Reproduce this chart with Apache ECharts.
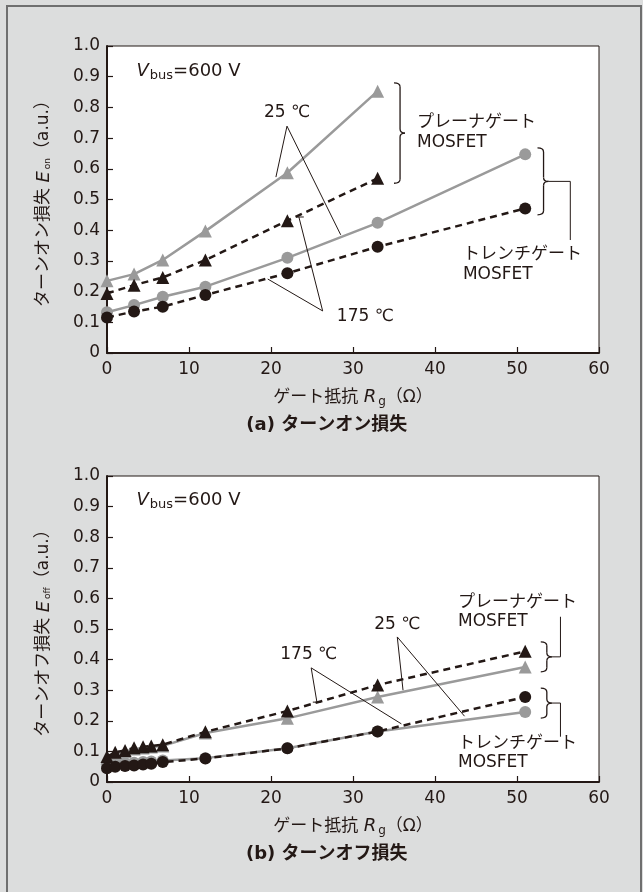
<!DOCTYPE html>
<html><head><meta charset="utf-8">
<script src="https://cdn.jsdelivr.net/npm/echarts@6/dist/echarts.min.js"></script>
<style>html,body{margin:0;padding:0;background:#dcdddd}#c{width:643px;height:892px}</style>
</head><body><div id="c"></div>
<script>
// ---------- data ----------
const rgOn = [0, 3.3, 6.8, 12, 22, 33, 51];
const planar25On  = [0.235, 0.257, 0.303, 0.397, 0.587, 0.853];
const planar175On = [0.194, 0.221, 0.246, 0.303, 0.431, 0.569];
const trench25On  = [0.133, 0.156, 0.183, 0.216, 0.310, 0.424, 0.647];
const trench175On = [0.116, 0.135, 0.151, 0.189, 0.260, 0.346, 0.471];

const rgOff = [0, 1, 2.2, 3.3, 4.4, 5.4, 6.8, 12, 22, 33, 51];
const planar25Off  = [0.078, 0.093, 0.099, 0.108, 0.111, 0.114, 0.118, 0.160, 0.208, 0.278, 0.376];
const planar175Off = [0.083, 0.097, 0.103, 0.112, 0.115, 0.118, 0.122, 0.164, 0.232, 0.317, 0.427];
const trench25Off  = [0.058, 0.060, 0.062, 0.063, 0.065, 0.067, 0.070, 0.078, 0.110, 0.165, 0.229];
const trench175Off = [0.045, 0.050, 0.052, 0.054, 0.057, 0.060, 0.065, 0.077, 0.110, 0.165, 0.278];

const xTicks = [0, 10, 20, 30, 40, 50, 60];
const yTicks = [0, 0.1, 0.2, 0.3, 0.4, 0.5, 0.6, 0.7, 0.8, 0.9, 1.0];

// annotation anchors in data coordinates [grid, x, y]
const tempLabels = [
  [0, '25 ℃', 21.95, 0.782], [0, '175 ℃', 31.5, 0.12],
  [1, '25 ℃', 35.4, 0.516], [1, '175 ℃', 24.6, 0.415]
];
const leaders = [
  [0, 21.95, 0.739, 20.6, 0.573], [0, 21.95, 0.739, 28.5, 0.385],
  [0, 26.3, 0.137, 23.4, 0.443], [0, 26.3, 0.137, 19.6, 0.241],
  [1, 35.4, 0.474, 36.1, 0.300], [1, 35.4, 0.474, 43.6, 0.215],
  [1, 24.9, 0.373, 25.6, 0.261], [1, 24.9, 0.373, 35.9, 0.190]
];
const leaderTicks = [[0, 23.1, 24.0, 0.443], [1, 25.1, 26.1, 0.261]];
const braces = [ // grid, xLeft, yTop, yBottom
  [0, 35.0, 0.880, 0.553], [0, 52.5, 0.668, 0.450],
  [1, 52.9, 0.458, 0.360], [1, 52.9, 0.307, 0.209]
];
const bracketLines = [ // grid, yMid, xEnd, yEnd
  [0, 0.559, 56.5, 0.368], [1, 0.409, 55.3, 0.540], [1, 0.258, 55.3, 0.148]
];
const deviceLabels = [
  [0, 'プレーナゲート', 37.8, 0.749], [0, 'MOSFET', 37.8, 0.684],
  [0, 'トレンチゲート', 43.4, 0.319], [0, 'MOSFET', 43.4, 0.257],
  [1, 'プレーナゲート', 42.8, 0.585], [1, 'MOSFET', 42.8, 0.523],
  [1, 'トレンチゲート', 42.8, 0.127], [1, 'MOSFET', 42.8, 0.065]
];
const vbusAt = [[0, 3.6, 0.918], [1, 3.6, 0.920]];
const captions = ['(a) ターンオン損失', '(b) ターンオフ損失'];

// ---------- styling ----------
const FONT = "'DejaVu Sans','Noto Sans CJK JP',sans-serif";
const INK = '#231815';
const GRAY = '#9a9a9a';
const pair = (xs, ys) => ys.map((v, i) => [xs[i], v]);

function xAxis(gi) {
  return {
    gridIndex: gi, type: 'value', min: 0, max: 60, interval: 10,
    axisLine: { onZero: false, lineStyle: { color: INK, width: 2 } },
    axisTick: { inside: true, length: 6, lineStyle: { color: INK, width: 1.2 } },
    splitLine: { show: false },
    axisLabel: { color: INK, fontFamily: FONT, fontSize: 17, margin: 8 },
    name: '{a|ゲート抵抗 }{i|R}{s|g}{a|（Ω）}',
    nameLocation: 'middle', nameGap: 34,
    nameTextStyle: {
      rich: {
        a: { fontFamily: FONT, fontSize: 17, color: INK },
        i: { fontFamily: FONT, fontSize: 18, fontStyle: 'italic', color: INK },
        s: { fontFamily: FONT, fontSize: 12, color: INK, padding: [9, 0, 0, 2] }
      }
    }
  };
}
function yAxis(gi, sub) {
  return {
    gridIndex: gi, type: 'value', min: 0, max: 1, interval: 0.1,
    axisLine: { lineStyle: { color: INK, width: 2 } },
    axisTick: { inside: true, length: 6, lineStyle: { color: INK, width: 1.2 } },
    splitLine: { show: false },
    axisLabel: { color: INK, fontFamily: FONT, fontSize: 17, margin: 7,
      formatter: v => (v === 0 ? '0' : v.toFixed(1)) },
    name: '{a|ターン' + (gi === 0 ? 'オン' : 'オフ') + '損失 }{i|E}{s|' + sub + '}{a|（a.u.）}',
    nameLocation: 'middle', nameGap: 54,
    nameTextStyle: {
      rich: {
        a: { fontFamily: FONT, fontSize: 17, color: INK },
        i: { fontFamily: FONT, fontSize: 18, fontStyle: 'italic', color: INK },
        s: { fontFamily: FONT, fontSize: 9, color: INK, padding: [8, 0, 0, 2] }
      }
    }
  };
}
function solid(gi, data, sym) {
  return { type: 'line', xAxisIndex: gi, yAxisIndex: gi, data, symbol: sym,
    symbolSize: sym === 'triangle' ? 13 : 12, showSymbol: true,
    itemStyle: { color: GRAY }, lineStyle: { color: GRAY, width: 2.5 }, z: 2 };
}
function dashed(gi, data, sym) {
  return { type: 'line', xAxisIndex: gi, yAxisIndex: gi, data, symbol: sym,
    symbolSize: sym === 'triangle' ? 13 : 12, showSymbol: true,
    itemStyle: { color: INK }, lineStyle: { color: INK, width: 2.5, type: [7, 5] }, z: 3 };
}

const chart = echarts.init(document.getElementById('c'), null, { renderer: 'canvas' });
const option = {
  animation: false,
  backgroundColor: '#dcdddd',
  grid: [
    { left: 107, top: 46, width: 492, height: 307, show: true, backgroundColor: '#ffffff', borderColor: INK, borderWidth: 1 },
    { left: 107, top: 476, width: 492, height: 306, show: true, backgroundColor: '#ffffff', borderColor: INK, borderWidth: 1 }
  ],
  xAxis: [xAxis(0), xAxis(1)],
  yAxis: [yAxis(0, 'on'), yAxis(1, 'off')],
  series: [
    solid(0, pair(rgOn, planar25On), 'triangle'),
    solid(0, pair(rgOn, trench25On), 'circle'),
    dashed(0, pair(rgOn, planar175On), 'triangle'),
    dashed(0, pair(rgOn, trench175On), 'circle'),
    solid(1, pair(rgOff, planar25Off), 'triangle'),
    solid(1, pair(rgOff, trench25Off), 'circle'),
    dashed(1, pair(rgOff, planar175Off), 'triangle'),
    dashed(1, pair(rgOff, trench175Off), 'circle')
  ]
};
chart.setOption(option);

// ---------- annotations positioned via the axes ----------
const P = (g, x, y) => chart.convertToPixel({ gridIndex: g }, [x, y]);
const els = [];
const ln = (x1, y1, x2, y2, w) => els.push({ type: 'line', z: 10, silent: true,
  shape: { x1, y1, x2, y2 }, style: { stroke: INK, lineWidth: w || 1 } });
const qc = (x1, y1, cx, cy, x2, y2) => els.push({ type: 'bezierCurve', z: 10, silent: true,
  shape: { x1, y1, x2, y2, cpx1: cx, cpy1: cy }, style: { stroke: INK, fill: null, lineWidth: 1.3 } });

els.push({ type: 'rect', shape: { x: 7, y: 6, width: 634, height: 900 },
  style: { fill: null, stroke: '#6f6f6f', lineWidth: 2 }, z: 0, silent: true });
vbusAt.forEach(([g, x, y]) => {
  const p = P(g, x, y);
  els.push({ type: 'text', x: p[0], y: p[1], z: 10, style: {
    text: '{i|V}{s|bus}{a|=600 V}', verticalAlign: 'middle', align: 'left',
    rich: {
      i: { fontFamily: FONT, fontSize: 18, fontStyle: 'italic', fill: INK },
      s: { fontFamily: FONT, fontSize: 13, fill: INK, padding: [8, 0, 0, 1] },
      a: { fontFamily: FONT, fontSize: 18, fill: INK }
    } } });
});
tempLabels.forEach(([g, t, x, y]) => {
  const p = P(g, x, y);
  els.push({ type: 'text', x: p[0], y: p[1], z: 10, style: { text: t, fill: INK,
    font: '17px ' + FONT, align: 'center', verticalAlign: 'middle' } });
});
leaders.forEach(([g, x1, y1, x2, y2]) => {
  const a = P(g, x1, y1), b = P(g, x2, y2);
  ln(a[0], a[1], b[0], b[1]);
});
leaderTicks.forEach(([g, x1, x2, y]) => {
  const a = P(g, x1, y), b = P(g, x2, y);
  ln(a[0], a[1], b[0], b[1]);
});
const BW = 11;
braces.forEach(([g, x, yt, yb]) => {
  const t = P(g, x, yt), b = P(g, x, yb);
  const x0 = t[0], xm = x0 + BW * 0.55, xt = x0 + BW;
  const y0 = t[1], y1 = b[1], ym = (y0 + y1) / 2, r = 4;
  qc(x0, y0, xm, y0, xm, y0 + r);
  ln(xm, y0 + r, xm, ym - r, 1.3);
  qc(xm, ym - r, xm, ym, xt, ym);
  qc(xt, ym, xm, ym, xm, ym + r);
  ln(xm, ym + r, xm, y1 - r, 1.3);
  qc(xm, y1 - r, xm, y1, x0, y1);
});
bracketLines.forEach(([g, ym, xe, ye]) => {
  const br = braces.filter(b => b[0] === g)
    .reduce((best, b) => Math.abs((b[2] + b[3]) / 2 - ym) < Math.abs((best[2] + best[3]) / 2 - ym) ? b : best);
  const t = P(g, br[1], br[2]), bt = P(g, br[1], br[3]);
  const yPix = (t[1] + bt[1]) / 2;
  const e = P(g, xe, ye);
  const sx = t[0] + BW;
  ln(sx, yPix, e[0], yPix);
  ln(e[0], yPix, e[0], e[1]);
});
deviceLabels.forEach(([g, t, x, y]) => {
  const p = P(g, x, y);
  els.push({ type: 'text', x: p[0], y: p[1], z: 10, style: { text: t, fill: INK,
    font: '17px ' + FONT, align: 'left', verticalAlign: 'middle' } });
});
captions.forEach((t, i) => {
  const p = P(i, 26.8, -0.237);
  els.push({ type: 'text', x: p[0], y: p[1], z: 10, style: { text: t, fill: INK,
    font: 'bold 18px ' + FONT, align: 'center', verticalAlign: 'middle' } });
});
chart.setOption({ graphic: { elements: els } });
</script></body></html>
